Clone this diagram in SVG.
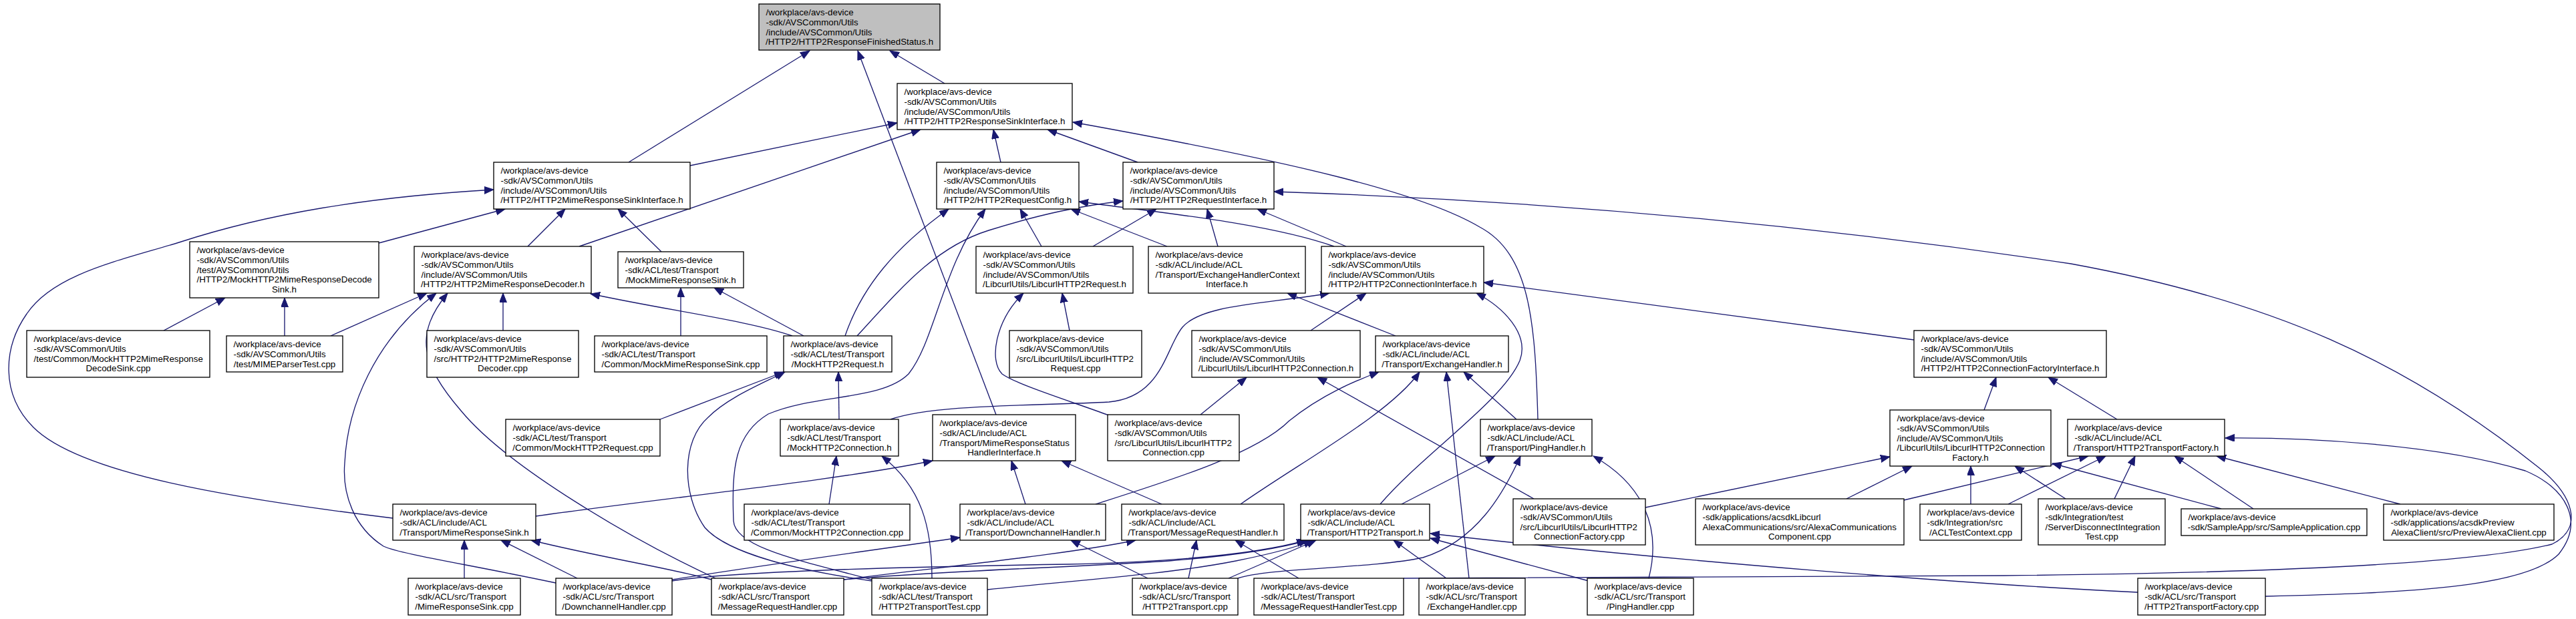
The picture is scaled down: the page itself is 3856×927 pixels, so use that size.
<svg xmlns="http://www.w3.org/2000/svg" width="3856" height="927" viewBox="0 0 3856 927">
<style>
.bx{fill:#fff;stroke:#000;stroke-width:1.33}
.root{fill:#bfbfbf;stroke:#000;stroke-width:1.33}
text{font-family:"Liberation Sans",Arial,sans-serif;font-size:13.33px;fill:#000}
.c{text-anchor:middle}
.e path{fill:none;stroke:#191970;stroke-width:1.33;marker-end:url(#ah)}
</style>
<defs>
<marker id="ah" markerUnits="userSpaceOnUse" markerWidth="15" markerHeight="12" refX="14" refY="5.5" orient="auto">
<path d="M0,0 L14,5.5 L0,11 z" fill="#191970" stroke="#191970" stroke-width="1"/>
</marker>
</defs>
<rect width="3856" height="927" fill="#fff"/>
<g class="e" id="edges">
<path d="M941,243 L1212,76"/>
<path d="M1491,621 L1284,76"/>
<path d="M1414,125 L1332,76"/>
<path d="M1033,248 L1343,184"/>
<path d="M867,369 L1378,194"/>
<path d="M1498,243 L1487,194"/>
<path d="M1703,243 L1568,194"/>
<path d="M2302,628 C2298,480 2290,380 2215,340 C2130,290 1950,245 1606,183"/>
<path d="M567,364 L756,313"/>
<path d="M790,369 L846,313"/>
<path d="M990,377 L925,313"/>
<path d="M588,776 C350,747 120,710 50,640 C0,590 5,520 40,470 C80,410 180,390 268,363 C400,320 550,295 739,284"/>
<path d="M426,503 L426,446"/>
<path d="M245,495 L337,446"/>
<path d="M495,503 L639,439"/>
<path d="M753,495 L753,439"/>
<path d="M832,873 C700,845 600,830 574,818 C530,790 512,740 516,693 C520,610 560,510 653,439"/>
<path d="M1071,866 C950,810 760,700 690,615 C630,545 620,500 670,439"/>
<path d="M1186,503 C1120,480 1000,465 884,440"/>
<path d="M1019,503 L1019,431"/>
<path d="M1203,503 L1069,431"/>
<path d="M1265,503 C1290,430 1340,370 1420,313"/>
<path d="M1283,503 C1350,430 1400,370 1480,345 C1560,320 1620,308 1681,301"/>
<path d="M988,628 L1173,557"/>
<path d="M1256,628 L1255,557"/>
<path d="M1305,870 C1200,855 1090,830 1055,790 C1020,740 1020,660 1060,625 C1090,595 1140,575 1175,557"/>
<path d="M1305,868 C1200,840 1100,820 1098,780 C1095,700 1100,650 1150,620 C1220,590 1320,600 1360,560 C1400,510 1410,400 1475,313"/>
<path d="M1333,628 C1400,605 1550,608 1660,602 C1740,595 1745,520 1770,490 C1800,455 1900,455 1990,439"/>
<path d="M1241,755 L1252,683"/>
<path d="M1395,866 C1395,790 1380,730 1320,683"/>
<path d="M1559,369 L1527,313"/>
<path d="M1636,369 L1731,313"/>
<path d="M1601,495 L1590,439"/>
<path d="M1660,622 C1600,600 1520,575 1500,560 C1480,540 1490,480 1532,439"/>
<path d="M1747,369 L1603,313"/>
<path d="M1823,369 L1807,313"/>
<path d="M1997,369 C1900,335 1750,320 1615,302"/>
<path d="M2015,369 L1882,313"/>
<path d="M1962,495 L2045,439"/>
<path d="M2066,755 C2130,680 2250,600 2275,540 C2290,500 2250,460 2210,439"/>
<path d="M2865,509 L2221,423"/>
<path d="M2089,503 L1927,439"/>
<path d="M1797,621 L1866,565"/>
<path d="M2296,747 L1972,565"/>
<path d="M1640,755 C1750,720 1880,680 1930,630 C1980,590 2030,570 2064,557"/>
<path d="M1857,755 C1950,690 2080,620 2125,557"/>
<path d="M2199,866 L2165,557"/>
<path d="M2270,628 L2191,557"/>
<path d="M2970,614 L2988,565"/>
<path d="M3169,628 L3066,565"/>
<path d="M1535,755 L1514,690"/>
<path d="M1739,755 L1589,690"/>
<path d="M802,773 C1000,745 1250,720 1396,690"/>
<path d="M1718,866 L1603,809"/>
<path d="M1779,866 L1791,809"/>
<path d="M1944,866 L1849,809"/>
<path d="M1263,868 C1400,850 1600,830 1700,809"/>
<path d="M1006,868 C1150,845 1300,825 1437,805"/>
<path d="M1006,870 C1100,855 1400,848 1600,845 C1800,840 1900,825 1955,809"/>
<path d="M1263,868 C1400,855 1600,850 1750,840 C1850,832 1920,820 1958,809"/>
<path d="M1478,883 C1600,870 1750,860 1850,840 C1910,828 1945,818 1965,809"/>
<path d="M1839,866 L1970,809"/>
<path d="M2165,866 L2086,809"/>
<path d="M2378,870 L2141,806"/>
<path d="M3200,887 C2950,875 2500,840 2141,799"/>
<path d="M2098,755 L2238,683"/>
<path d="M1853,866 C1900,850 2050,852 2130,835 C2210,810 2250,740 2276,683"/>
<path d="M2468,866 C2490,780 2450,720 2385,683"/>
<path d="M2463,760 L2829,684"/>
<path d="M2764,747 L2862,698"/>
<path d="M2850,749 L3126,683"/>
<path d="M2950,755 L2950,698"/>
<path d="M3006,755 L3152,683"/>
<path d="M3092,747 L3016,698"/>
<path d="M3165,747 L3196,683"/>
<path d="M3325,762 L3072,694"/>
<path d="M3373,762 L3255,683"/>
<path d="M3593,755 L3318,683"/>
<path d="M3391,893 C3600,888 3780,880 3830,830 C3870,780 3840,730 3780,705 C3650,665 3450,655 3331,656"/>
<path d="M2101,866 C2400,862 2700,865 3000,862 C3400,858 3700,845 3820,815 C3870,790 3850,740 3800,700 C3600,540 3400,450 3100,395 C2700,335 2300,300 1907,287"/>
<path d="M695,866 L695,809"/>
<path d="M864,866 L750,809"/>
<path d="M1065,868 C1000,850 900,835 795,809"/>
</g>
<g id="n1"><rect class="root" x="1136" y="6" width="271" height="69"/><text x="1146.5" y="23.3">/workplace/avs-device</text><text x="1146.5" y="38">-sdk/AVSCommon/Utils</text><text x="1146.5" y="52.6">/include/AVSCommon/Utils</text><text class="c" x="1271.5" y="67.3">/HTTP2/HTTP2ResponseFinishedStatus.h</text></g>
<g id="n2"><rect class="bx" x="1343" y="125" width="262" height="69"/><text x="1353.5" y="142.3">/workplace/avs-device</text><text x="1353.5" y="157">-sdk/AVSCommon/Utils</text><text x="1353.5" y="171.6">/include/AVSCommon/Utils</text><text class="c" x="1474" y="186.3">/HTTP2/HTTP2ResponseSinkInterface.h</text></g>
<g id="n3"><rect class="bx" x="739" y="243" width="294" height="70"/><text x="749.5" y="260.3">/workplace/avs-device</text><text x="749.5" y="275">-sdk/AVSCommon/Utils</text><text x="749.5" y="289.6">/include/AVSCommon/Utils</text><text class="c" x="886" y="304.3">/HTTP2/HTTP2MimeResponseSinkInterface.h</text></g>
<g id="n4"><rect class="bx" x="1402" y="243" width="213" height="70"/><text x="1412.5" y="260.3">/workplace/avs-device</text><text x="1412.5" y="275">-sdk/AVSCommon/Utils</text><text x="1412.5" y="289.6">/include/AVSCommon/Utils</text><text class="c" x="1508.5" y="304.3">/HTTP2/HTTP2RequestConfig.h</text></g>
<g id="n5"><rect class="bx" x="1681" y="243" width="226" height="70"/><text x="1691.5" y="260.3">/workplace/avs-device</text><text x="1691.5" y="275">-sdk/AVSCommon/Utils</text><text x="1691.5" y="289.6">/include/AVSCommon/Utils</text><text class="c" x="1794" y="304.3">/HTTP2/HTTP2RequestInterface.h</text></g>
<g id="n6"><rect class="bx" x="284" y="362" width="283" height="84"/><text x="294.5" y="379.4">/workplace/avs-device</text><text x="294.5" y="394.1">-sdk/AVSCommon/Utils</text><text x="294.5" y="408.7">/test/AVSCommon/Utils</text><text x="294.5" y="423.4">/HTTP2/MockHTTP2MimeResponseDecode</text><text class="c" x="425.5" y="438.1">Sink.h</text></g>
<g id="n7"><rect class="bx" x="620" y="369" width="265" height="70"/><text x="630.5" y="386.3">/workplace/avs-device</text><text x="630.5" y="401">-sdk/AVSCommon/Utils</text><text x="630.5" y="415.6">/include/AVSCommon/Utils</text><text class="c" x="752.5" y="430.3">/HTTP2/HTTP2MimeResponseDecoder.h</text></g>
<g id="n8"><rect class="bx" x="925" y="377" width="188" height="54"/><text x="935.5" y="394.3">/workplace/avs-device</text><text x="935.5" y="409">-sdk/ACL/test/Transport</text><text class="c" x="1019" y="423.6">/MockMimeResponseSink.h</text></g>
<g id="n9"><rect class="bx" x="1461" y="369" width="235" height="70"/><text x="1471.5" y="386.3">/workplace/avs-device</text><text x="1471.5" y="401">-sdk/AVSCommon/Utils</text><text x="1471.5" y="415.6">/include/AVSCommon/Utils</text><text class="c" x="1578.5" y="430.3">/LibcurlUtils/LibcurlHTTP2Request.h</text></g>
<g id="n10"><rect class="bx" x="1719" y="369" width="235" height="70"/><text x="1729.5" y="386.3">/workplace/avs-device</text><text x="1729.5" y="401">-sdk/ACL/include/ACL</text><text x="1729.5" y="415.6">/Transport/ExchangeHandlerContext</text><text class="c" x="1836.5" y="430.3">Interface.h</text></g>
<g id="n11"><rect class="bx" x="1978" y="369" width="243" height="70"/><text x="1988.5" y="386.3">/workplace/avs-device</text><text x="1988.5" y="401">-sdk/AVSCommon/Utils</text><text x="1988.5" y="415.6">/include/AVSCommon/Utils</text><text class="c" x="2099.5" y="430.3">/HTTP2/HTTP2ConnectionInterface.h</text></g>
<g id="n12"><rect class="bx" x="40" y="495" width="274" height="70"/><text x="50.5" y="512.3">/workplace/avs-device</text><text x="50.5" y="527">-sdk/AVSCommon/Utils</text><text x="50.5" y="541.6">/test/Common/MockHTTP2MimeResponse</text><text class="c" x="177" y="556.3">DecodeSink.cpp</text></g>
<g id="n13"><rect class="bx" x="339" y="503" width="174" height="54"/><text x="349.5" y="520.3">/workplace/avs-device</text><text x="349.5" y="535">-sdk/AVSCommon/Utils</text><text class="c" x="426" y="549.6">/test/MIMEParserTest.cpp</text></g>
<g id="n14"><rect class="bx" x="639" y="495" width="227" height="70"/><text x="649.5" y="512.3">/workplace/avs-device</text><text x="649.5" y="527">-sdk/AVSCommon/Utils</text><text x="649.5" y="541.6">/src/HTTP2/HTTP2MimeResponse</text><text class="c" x="752.5" y="556.3">Decoder.cpp</text></g>
<g id="n15"><rect class="bx" x="890" y="503" width="258" height="54"/><text x="900.5" y="520.3">/workplace/avs-device</text><text x="900.5" y="535">-sdk/ACL/test/Transport</text><text class="c" x="1019" y="549.6">/Common/MockMimeResponseSink.cpp</text></g>
<g id="n16"><rect class="bx" x="1173" y="503" width="162" height="54"/><text x="1183.5" y="520.3">/workplace/avs-device</text><text x="1183.5" y="535">-sdk/ACL/test/Transport</text><text class="c" x="1254" y="549.6">/MockHTTP2Request.h</text></g>
<g id="n17"><rect class="bx" x="1511" y="495" width="198" height="70"/><text x="1521.5" y="512.3">/workplace/avs-device</text><text x="1521.5" y="527">-sdk/AVSCommon/Utils</text><text x="1521.5" y="541.6">/src/LibcurlUtils/LibcurlHTTP2</text><text class="c" x="1610" y="556.3">Request.cpp</text></g>
<g id="n18"><rect class="bx" x="1784" y="495" width="252" height="70"/><text x="1794.5" y="512.3">/workplace/avs-device</text><text x="1794.5" y="527">-sdk/AVSCommon/Utils</text><text x="1794.5" y="541.6">/include/AVSCommon/Utils</text><text class="c" x="1910" y="556.3">/LibcurlUtils/LibcurlHTTP2Connection.h</text></g>
<g id="n19"><rect class="bx" x="2059" y="503" width="199" height="54"/><text x="2069.5" y="520.3">/workplace/avs-device</text><text x="2069.5" y="535">-sdk/ACL/include/ACL</text><text class="c" x="2158.5" y="549.6">/Transport/ExchangeHandler.h</text></g>
<g id="n20"><rect class="bx" x="2865" y="495" width="288" height="70"/><text x="2875.5" y="512.3">/workplace/avs-device</text><text x="2875.5" y="527">-sdk/AVSCommon/Utils</text><text x="2875.5" y="541.6">/include/AVSCommon/Utils</text><text class="c" x="3009" y="556.3">/HTTP2/HTTP2ConnectionFactoryInterface.h</text></g>
<g id="n21"><rect class="bx" x="757" y="628" width="231" height="55"/><text x="767.5" y="645.3">/workplace/avs-device</text><text x="767.5" y="660">-sdk/ACL/test/Transport</text><text class="c" x="872.5" y="674.6">/Common/MockHTTP2Request.cpp</text></g>
<g id="n22"><rect class="bx" x="1168" y="628" width="177" height="55"/><text x="1178.5" y="645.3">/workplace/avs-device</text><text x="1178.5" y="660">-sdk/ACL/test/Transport</text><text class="c" x="1256.5" y="674.6">/MockHTTP2Connection.h</text></g>
<g id="n23"><rect class="bx" x="1396" y="621" width="214" height="69"/><text x="1406.5" y="638.3">/workplace/avs-device</text><text x="1406.5" y="653">-sdk/ACL/include/ACL</text><text x="1406.5" y="667.6">/Transport/MimeResponseStatus</text><text class="c" x="1503" y="682.3">HandlerInterface.h</text></g>
<g id="n24"><rect class="bx" x="1658" y="621" width="197" height="69"/><text x="1668.5" y="638.3">/workplace/avs-device</text><text x="1668.5" y="653">-sdk/AVSCommon/Utils</text><text x="1668.5" y="667.6">/src/LibcurlUtils/LibcurlHTTP2</text><text class="c" x="1756.5" y="682.3">Connection.cpp</text></g>
<g id="n25"><rect class="bx" x="2216" y="628" width="167" height="55"/><text x="2226.5" y="645.3">/workplace/avs-device</text><text x="2226.5" y="660">-sdk/ACL/include/ACL</text><text class="c" x="2299.5" y="674.6">/Transport/PingHandler.h</text></g>
<g id="n26"><rect class="bx" x="2829" y="614" width="241" height="84"/><text x="2839.5" y="631.4">/workplace/avs-device</text><text x="2839.5" y="646.1">-sdk/AVSCommon/Utils</text><text x="2839.5" y="660.7">/include/AVSCommon/Utils</text><text x="2839.5" y="675.4">/LibcurlUtils/LibcurlHTTP2Connection</text><text class="c" x="2949.5" y="690.1">Factory.h</text></g>
<g id="n27"><rect class="bx" x="3095" y="628" width="235" height="55"/><text x="3105.5" y="645.3">/workplace/avs-device</text><text x="3105.5" y="660">-sdk/ACL/include/ACL</text><text class="c" x="3212.5" y="674.6">/Transport/HTTP2TransportFactory.h</text></g>
<g id="n28"><rect class="bx" x="588" y="755" width="214" height="54"/><text x="598.5" y="772.3">/workplace/avs-device</text><text x="598.5" y="787">-sdk/ACL/include/ACL</text><text class="c" x="695" y="801.6">/Transport/MimeResponseSink.h</text></g>
<g id="n29"><rect class="bx" x="1114" y="755" width="248" height="54"/><text x="1124.5" y="772.3">/workplace/avs-device</text><text x="1124.5" y="787">-sdk/ACL/test/Transport</text><text class="c" x="1238" y="801.6">/Common/MockHTTP2Connection.cpp</text></g>
<g id="n30"><rect class="bx" x="1437" y="755" width="218" height="54"/><text x="1447.5" y="772.3">/workplace/avs-device</text><text x="1447.5" y="787">-sdk/ACL/include/ACL</text><text class="c" x="1546" y="801.6">/Transport/DownchannelHandler.h</text></g>
<g id="n31"><rect class="bx" x="1679" y="755" width="243" height="54"/><text x="1689.5" y="772.3">/workplace/avs-device</text><text x="1689.5" y="787">-sdk/ACL/include/ACL</text><text class="c" x="1800.5" y="801.6">/Transport/MessageRequestHandler.h</text></g>
<g id="n32"><rect class="bx" x="1947" y="755" width="193" height="54"/><text x="1957.5" y="772.3">/workplace/avs-device</text><text x="1957.5" y="787">-sdk/ACL/include/ACL</text><text class="c" x="2043.5" y="801.6">/Transport/HTTP2Transport.h</text></g>
<g id="n33"><rect class="bx" x="2265" y="747" width="198" height="69"/><text x="2275.5" y="764.3">/workplace/avs-device</text><text x="2275.5" y="779">-sdk/AVSCommon/Utils</text><text x="2275.5" y="793.6">/src/LibcurlUtils/LibcurlHTTP2</text><text class="c" x="2364" y="808.3">ConnectionFactory.cpp</text></g>
<g id="n34"><rect class="bx" x="2538" y="747" width="312" height="69"/><text x="2548.5" y="764.3">/workplace/avs-device</text><text x="2548.5" y="779">-sdk/applications/acsdkLibcurl</text><text x="2548.5" y="793.6">AlexaCommunications/src/AlexaCommunications</text><text class="c" x="2694" y="808.3">Component.cpp</text></g>
<g id="n35"><rect class="bx" x="2874" y="755" width="152" height="54"/><text x="2884.5" y="772.3">/workplace/avs-device</text><text x="2884.5" y="787">-sdk/Integration/src</text><text class="c" x="2950" y="801.6">/ACLTestContext.cpp</text></g>
<g id="n36"><rect class="bx" x="3051" y="747" width="190" height="69"/><text x="3061.5" y="764.3">/workplace/avs-device</text><text x="3061.5" y="779">-sdk/Integration/test</text><text x="3061.5" y="793.6">/ServerDisconnectIntegration</text><text class="c" x="3146" y="808.3">Test.cpp</text></g>
<g id="n37"><rect class="bx" x="3265" y="762" width="278" height="40"/><text x="3275.5" y="779.4">/workplace/avs-device</text><text class="c" x="3404" y="794.1">-sdk/SampleApp/src/SampleApplication.cpp</text></g>
<g id="n38"><rect class="bx" x="3568" y="755" width="255" height="54"/><text x="3578.5" y="772.3">/workplace/avs-device</text><text x="3578.5" y="787">-sdk/applications/acsdkPreview</text><text class="c" x="3695.5" y="801.6">AlexaClient/src/PreviewAlexaClient.cpp</text></g>
<g id="n39"><rect class="bx" x="611" y="866" width="168" height="55"/><text x="621.5" y="883.3">/workplace/avs-device</text><text x="621.5" y="898">-sdk/ACL/src/Transport</text><text class="c" x="695" y="912.6">/MimeResponseSink.cpp</text></g>
<g id="n40"><rect class="bx" x="832" y="866" width="174" height="55"/><text x="842.5" y="883.3">/workplace/avs-device</text><text x="842.5" y="898">-sdk/ACL/src/Transport</text><text class="c" x="919" y="912.6">/DownchannelHandler.cpp</text></g>
<g id="n41"><rect class="bx" x="1065" y="866" width="198" height="55"/><text x="1075.5" y="883.3">/workplace/avs-device</text><text x="1075.5" y="898">-sdk/ACL/src/Transport</text><text class="c" x="1164" y="912.6">/MessageRequestHandler.cpp</text></g>
<g id="n42"><rect class="bx" x="1305" y="866" width="173" height="55"/><text x="1315.5" y="883.3">/workplace/avs-device</text><text x="1315.5" y="898">-sdk/ACL/test/Transport</text><text class="c" x="1391.5" y="912.6">/HTTP2TransportTest.cpp</text></g>
<g id="n43"><rect class="bx" x="1695" y="866" width="158" height="55"/><text x="1705.5" y="883.3">/workplace/avs-device</text><text x="1705.5" y="898">-sdk/ACL/src/Transport</text><text class="c" x="1774" y="912.6">/HTTP2Transport.cpp</text></g>
<g id="n44"><rect class="bx" x="1877" y="866" width="224" height="55"/><text x="1887.5" y="883.3">/workplace/avs-device</text><text x="1887.5" y="898">-sdk/ACL/test/Transport</text><text class="c" x="1989" y="912.6">/MessageRequestHandlerTest.cpp</text></g>
<g id="n45"><rect class="bx" x="2124" y="866" width="159" height="55"/><text x="2134.5" y="883.3">/workplace/avs-device</text><text x="2134.5" y="898">-sdk/ACL/src/Transport</text><text class="c" x="2203.5" y="912.6">/ExchangeHandler.cpp</text></g>
<g id="n46"><rect class="bx" x="2376" y="866" width="159" height="55"/><text x="2386.5" y="883.3">/workplace/avs-device</text><text x="2386.5" y="898">-sdk/ACL/src/Transport</text><text class="c" x="2455.5" y="912.6">/PingHandler.cpp</text></g>
<g id="n47"><rect class="bx" x="3200" y="866" width="191" height="55"/><text x="3210.5" y="883.3">/workplace/avs-device</text><text x="3210.5" y="898">-sdk/ACL/src/Transport</text><text class="c" x="3295.5" y="912.6">/HTTP2TransportFactory.cpp</text></g>
</svg>
